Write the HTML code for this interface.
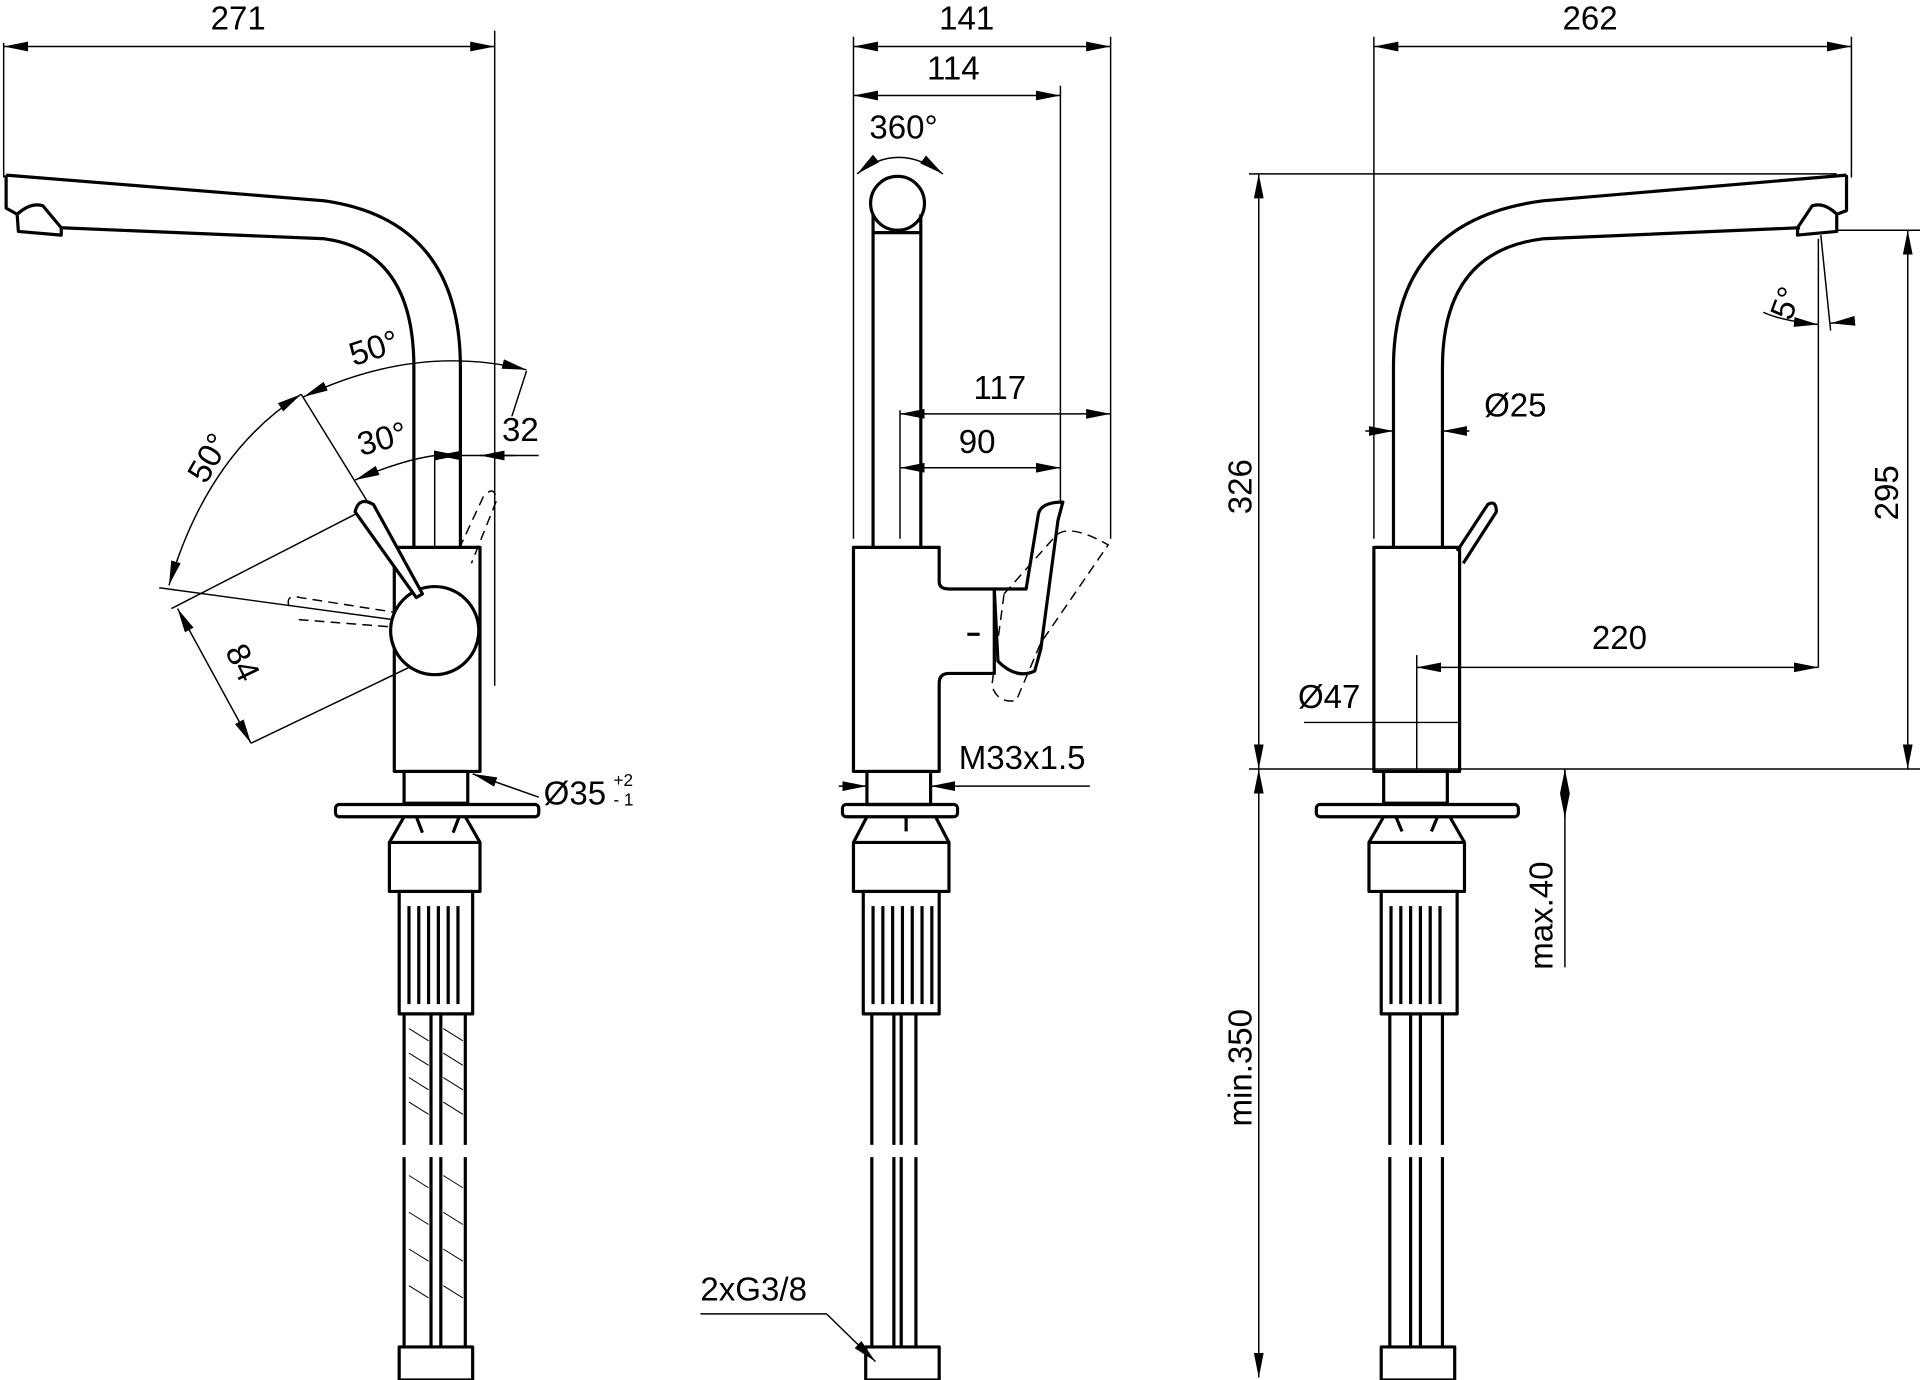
<!DOCTYPE html>
<html><head><meta charset="utf-8"><style>html,body{margin:0;padding:0;background:#fff}svg{display:block}</style></head>
<body>
<svg width="1920" height="1380" viewBox="0 0 1568 1127" xmlns="http://www.w3.org/2000/svg" font-family="Liberation Sans, sans-serif" font-size="27" fill="none" stroke="#000">
<defs>
<marker id="a" viewBox="0 0 20 8" refX="20" refY="4" markerWidth="20" markerHeight="8" markerUnits="userSpaceOnUse" orient="auto-start-reverse"><path d="M0,0L20,4L0,8z" fill="#000" stroke="none"/></marker>
</defs>
<g stroke-width="1.2">
<line x1="3" y1="35" x2="3" y2="145"/><line x1="404" y1="25" x2="404" y2="560"/>
<line x1="3" y1="38" x2="404" y2="38" marker-start="url(#a)" marker-end="url(#a)"/>
<path d="M248,324 Q340,280 430,302" marker-start="url(#a)" marker-end="url(#a)"/>
<line x1="430" y1="303" x2="418" y2="340"/>
<path d="M246,322 Q170,370 138,478" marker-start="url(#a)" marker-end="url(#a)"/>
<line x1="246" y1="322" x2="325" y2="450"/>
<path d="M290,392 Q330,375 356,372" marker-start="url(#a)"/>
<line x1="355" y1="372" x2="440" y2="372"/>
<line x1="357" y1="372" x2="375" y2="372" marker-end="url(#a)" marker-start="url(#a)"/>
<line x1="420" y1="372" x2="392" y2="372" marker-end="url(#a)"/>
<line x1="355" y1="368" x2="355" y2="447"/>
<line x1="130" y1="480" x2="350" y2="510" />
<line x1="140" y1="497" x2="290" y2="420"/>
<line x1="205" y1="607" x2="355" y2="535"/>
<line x1="145" y1="497" x2="205" y2="607" marker-start="url(#a)" marker-end="url(#a)"/>
<line x1="440" y1="651" x2="386" y2="632" marker-end="url(#a)"/>
</g>
<g stroke-width="2.6" stroke-linejoin="round">
<path d="M5,143 L265,164 Q376,180 376,300 L376,447"/>
<path d="M50,186 L265,195 Q338,205 338,300 L338,447"/>
<path d="M5,143 L5,170 L14,175"/>
<path d="M14,175 Q25,165 35,168 L50,186 L50,192 L15,189 Z"/>
<rect x="322" y="447" width="70" height="183"/>
<circle cx="355" cy="515" r="36" fill="#fff"/>
<path d="M290,418 Q293,405 305,412 L345,485 L340,488 Z" fill="#fff"/>
<rect x="330" y="630" width="52" height="26"/>
<rect x="274" y="657" width="166" height="10" rx="3"/>
<rect x="318" y="688" width="74" height="40"/>
<path d="M318,688 L330,667 M392,688 L380,667 M340,667 L345,680 M375,667 L370,680"/>
<rect x="326" y="728" width="60" height="100"/>
<path d="M334,740v80M342,740v80M350,740v80M358,740v80M366,740v80M374,740v80"/>
<path d="M330,828v107M352,828v107M360,828v107M380,828v107M330,945v155M352,945v155M360,945v155M380,945v155"/>
<rect x="326" y="1100" width="60" height="27"/>
</g>
<g stroke-width="1.2" stroke-dasharray="8,5">
<path d="M236,495 Q233,485 245,488 L322,500 M244,506 L320,512"/>
<path d="M375,448 L395,405 Q405,395 405,410 L385,460"/>
</g>
<g stroke-width="0.8">
<path d="M334,840 l16,10 M334,860 l16,10 M334,880 l16,10 M334,900 l16,10 M362,840 l16,10 M362,860 l16,10 M362,880 l16,10 M362,900 l16,10 M334,960 l16,10 M334,990 l16,10 M334,1020 l16,10 M334,1050 l16,10 M362,960 l16,10 M362,990 l16,10 M362,1020 l16,10 M362,1050 l16,10"/>
</g>
<g fill="#000" stroke="none">
<text x="172" y="24">271</text>
<text x="285" y="295" transform="rotate(-18 300 285)">50°</text>
<text x="292" y="368" transform="rotate(-15 310 360)">30°</text>
<text x="150" y="395" transform="rotate(-60 160 380)">50°</text>
<text x="410" y="360">32</text>
<text x="175" y="545" transform="rotate(64 190 545)">84</text>
<text x="444" y="657">Ø35</text><text x="501" y="642" font-size="14">+2</text><text x="501" y="658" font-size="14">- 1</text>
</g>

<g stroke-width="1.2">
<line x1="697" y1="30" x2="697" y2="440"/><line x1="907" y1="30" x2="907" y2="440"/><line x1="866" y1="70" x2="866" y2="410"/>
<line x1="697" y1="38" x2="907" y2="38" marker-start="url(#a)" marker-end="url(#a)"/>
<line x1="697" y1="78" x2="866" y2="78" marker-start="url(#a)" marker-end="url(#a)"/>
<path d="M700,142 Q733,115 770,142" marker-start="url(#a)" marker-end="url(#a)"/>
<line x1="735" y1="335" x2="735" y2="440"/>
<line x1="735" y1="338" x2="907" y2="338" marker-start="url(#a)" marker-end="url(#a)"/>
<line x1="735" y1="382" x2="866" y2="382" marker-start="url(#a)" marker-end="url(#a)"/>
<line x1="685" y1="642" x2="708" y2="642" marker-end="url(#a)"/>
<line x1="890" y1="642" x2="760" y2="642" marker-end="url(#a)"/>
<line x1="572" y1="1073" x2="675" y2="1073"/><line x1="675" y1="1073" x2="715" y2="1112" marker-end="url(#a)"/>
</g>
<g stroke-width="2.6" stroke-linejoin="round">
<circle cx="733" cy="166" r="22"/>
<path d="M713,190 L752,190"/>
<line x1="713" y1="175" x2="713" y2="447"/><line x1="752" y1="175" x2="752" y2="447"/>
<path d="M697,447 L767,447 L767,475 Q767,481 775,481 L812,481 L812,550 L775,550 Q767,550 767,558 L767,630 L697,630 Z"/>
<path d="M812,481 L838,481 L848,420 Q850,410 868,410 L864,425 L850,530 L845,548 Q830,555 815,540 Z"/>
<line x1="790" y1="518" x2="800" y2="518"/>
<rect x="708" y="630" width="52" height="27"/>
<rect x="688" y="657" width="94" height="10" rx="3"/>
<rect x="697" y="688" width="78" height="40"/>
<path d="M697,688 L708,667 M775,688 L764,667 M740,667v12"/>
<rect x="705" y="728" width="62" height="100"/>
<path d="M713,740v80M721,740v80M729,740v80M737,740v80M745,740v80M753,740v80M761,740v80"/>
<path d="M712,828v107M730,828v107M736,828v107M748,828v107M712,945v155M730,945v155M736,945v155M748,945v155"/>
<rect x="707" y="1100" width="60" height="27"/>
</g>
<path d="M820,485 L860,440 Q870,425 905,445 L850,525 L830,572 Q815,575 810,560 Z" stroke-width="1.2" stroke-dasharray="8,5"/>
<g fill="#000" stroke="none">
<text x="767" y="24">141</text><text x="757" y="65">114</text><text x="710" y="113">360°</text>
<text x="795" y="326">117</text><text x="783" y="370">90</text>
<text x="783" y="628">M33x1.5</text><text x="572" y="1062">2xG3/8</text>
</g>

<g stroke-width="1.2">
<line x1="1122" y1="30" x2="1122" y2="440"/><line x1="1512" y1="30" x2="1512" y2="145"/>
<line x1="1122" y1="38" x2="1512" y2="38" marker-start="url(#a)" marker-end="url(#a)"/>
<line x1="1020" y1="142" x2="1500" y2="142"/>
<line x1="1028" y1="142" x2="1028" y2="628" marker-start="url(#a)" marker-end="url(#a)"/>
<line x1="1020" y1="628" x2="1568" y2="628"/>
<line x1="1028" y1="628" x2="1028" y2="1125" marker-start="url(#a)" marker-end="url(#a)"/>
<line x1="1500" y1="188" x2="1568" y2="188"/>
<line x1="1558" y1="188" x2="1558" y2="628" marker-start="url(#a)" marker-end="url(#a)"/>
<line x1="1485" y1="195" x2="1485" y2="545"/><line x1="1487" y1="192" x2="1495" y2="270"/>
<path d="M1440,255 Q1455,262 1485,265" marker-end="url(#a)"/><line x1="1515" y1="262" x2="1495" y2="264" marker-end="url(#a)"/>
<line x1="1115" y1="352" x2="1138" y2="352" marker-end="url(#a)"/><line x1="1200" y1="352" x2="1178" y2="352" marker-end="url(#a)"/>
<line x1="1157" y1="535" x2="1157" y2="628"/>
<line x1="1157" y1="545" x2="1485" y2="545" marker-start="url(#a)" marker-end="url(#a)"/>
<line x1="1065" y1="590" x2="1192" y2="590"/>
<line x1="1278" y1="628" x2="1278" y2="790"/>
<line x1="1278" y1="628" x2="1278" y2="668" marker-start="url(#a)" marker-end="url(#a)"/>
</g>
<g stroke-width="2.6" stroke-linejoin="round">
<path d="M1508,143 L1260,164 Q1138,180 1138,300 L1138,447"/>
<path d="M1470,186 L1260,195 Q1178,205 1178,300 L1178,447"/>
<path d="M1508,143 L1508,172 L1500,175"/>
<path d="M1500,175 Q1490,165 1480,168 L1468,186 L1468,192 L1500,189 Z"/>
<rect x="1122" y="447" width="70" height="183"/>
<path d="M1190,450 L1215,412 Q1222,408 1222,418 L1195,460"/>
<rect x="1130" y="630" width="52" height="26"/>
<rect x="1075" y="657" width="165" height="10" rx="3"/>
<rect x="1118" y="688" width="78" height="40"/>
<path d="M1118,688 L1130,667 M1196,688 L1184,667 M1140,667 l5,12 M1174,667 l-5,12"/>
<rect x="1128" y="728" width="62" height="100"/>
<path d="M1136,740v80M1144,740v80M1152,740v80M1160,740v80M1168,740v80M1176,740v80"/>
<path d="M1135,828v107M1152,828v107M1160,828v107M1178,828v107M1135,945v155M1152,945v155M1160,945v155M1178,945v155"/>
<rect x="1128" y="1100" width="60" height="27"/>
</g>
<g fill="#000" stroke="none">
<text x="1276" y="24">262</text>
<text x="1022" y="420" transform="rotate(-90 1022 420)">326</text>
<text x="1550" y="425" transform="rotate(-90 1550 425)">295</text>
<text x="1455" y="268" transform="rotate(-70 1455 260)">5°</text>
<text x="1212" y="340">Ø25</text>
<text x="1300" y="530">220</text>
<text x="1060" y="578">Ø47</text>
<text x="1268" y="792" transform="rotate(-90 1268 792)">max.40</text>
<text x="1022" y="920" transform="rotate(-90 1022 920)">min.350</text>
</g>
</svg>
</body></html>
